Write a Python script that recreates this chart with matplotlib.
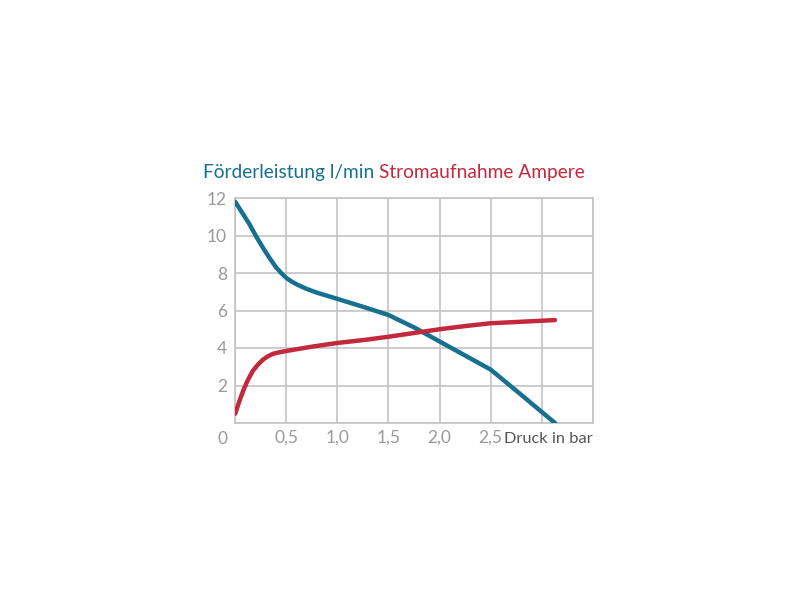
import matplotlib.pyplot as plt
import numpy as np

# Förderleistung (l/min) over Druck (bar)
flow_x = [0.0, 0.07, 0.14, 0.2, 0.27, 0.33, 0.4, 0.45, 0.5, 0.55, 0.6, 0.7, 0.8, 1.0, 1.25, 1.5, 1.75, 2.0, 2.25, 2.5, 2.8, 3.13]
flow_y = [11.8, 11.2, 10.6, 10.0, 9.36, 8.85, 8.3, 8.0, 7.74, 7.55, 7.4, 7.15, 6.95, 6.62, 6.2, 5.76, 5.1, 4.35, 3.6, 2.85, 1.5, 0.0]

# Stromaufnahme (Ampere) over Druck (bar)
amp_x = [0.0, 0.04, 0.08, 0.12, 0.17, 0.22, 0.27, 0.32, 0.37, 0.43, 0.5, 0.75, 1.0, 1.25, 1.5, 1.75, 2.0, 2.25, 2.5, 2.8, 3.13]
amp_y = [0.5, 1.15, 1.75, 2.25, 2.76, 3.1, 3.37, 3.56, 3.69, 3.77, 3.84, 4.07, 4.27, 4.42, 4.6, 4.8, 5.0, 5.17, 5.32, 5.4, 5.49]

x_ticks = [0, 0.5, 1.0, 1.5, 2.0, 2.5, 3.0, 3.5]
x_labels = ['', '0,5', '1,0', '1,5', '2,0', '2,5', '', '']
y_ticks = [0, 2, 4, 6, 8, 10, 12]
y_labels = ['', '2', '4', '6', '8', '10', '12']

blue = '#16708f'
red = '#c3293c'
grid_c = '#c4c4c4'
tick_c = '#9a9a9a'

plt.rcParams['font.family'] = ['Lato', 'DejaVu Sans']

fig = plt.figure(figsize=(8, 6), dpi=100)
ax = fig.add_axes([0.294, 0.295, 0.447, 0.375])

ax.plot(flow_x, flow_y, color=blue, lw=3.2, solid_joinstyle='round', solid_capstyle='round', zorder=3)
ax.plot(amp_x, amp_y, color=red, lw=3.2, solid_joinstyle='round', solid_capstyle='round', zorder=3)

ax.set_xlim(0, 3.5)
ax.set_ylim(0, 12)
ax.set_xticks(x_ticks)
ax.set_xticklabels(x_labels)
ax.set_yticks(y_ticks)
ax.set_yticklabels(y_labels)
ax.tick_params(length=0, labelsize=12.5, colors=tick_c, pad=6)
ax.tick_params(axis='x', pad=5)
ax.grid(True, color=grid_c, lw=1.2)
for s in ax.spines.values():
    s.set_color(grid_c)
    s.set_linewidth(1.2)

ax.text(-0.12, -0.45, '0', fontsize=12.5, color=tick_c, ha='center', va='top')
ax.text(3.5, -0.5, 'Druck in bar', fontsize=11.8, color='#555555', ha='right', va='top')

t1 = fig.text(0.254, 0.703, 'Förderleistung l/min ', fontsize=13.8, color=blue, va='baseline')
fig.canvas.draw()
ax.annotate('Stromaufnahme Ampere', xy=(1, 0), xycoords=t1, fontsize=13.8,
            color=red, va='bottom', annotation_clip=False)

fig.savefig('out.png', dpi=100)
